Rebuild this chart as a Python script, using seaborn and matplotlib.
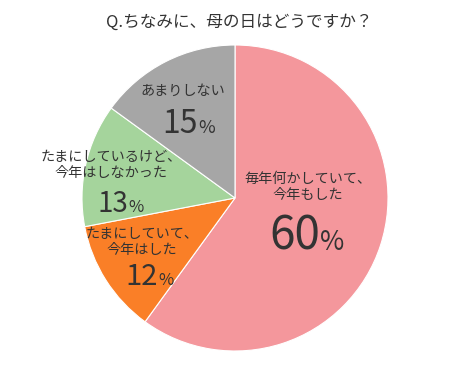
import matplotlib
matplotlib.use("Agg")
import matplotlib.pyplot as plt
import seaborn as sns

sns.set_theme(style="white")
plt.rcParams['font.family'] = ['Noto Sans CJK JP', 'DejaVu Sans']

title = "Q.ちなみに、母の日はどうですか？"
categories = ["毎年何かしていて、\n今年もした", "たまにしていて、\n今年はした",
              "たまにしているけど、\n今年はしなかった", "あまりしない"]
values = [60, 12, 13, 15]
colors = ["#F4979C", "#FA7F27", "#A5D49C", "#A6A6A6"]

W, H = 475, 390
fig = plt.figure(figsize=(W / 100, H / 100), dpi=100)
cx, cy, R = 235, 198, 153
ax = fig.add_axes([(cx - R) / W, (H - cy - R) / H, 2 * R / W, 2 * R / H])
ax.pie(values, colors=colors, startangle=90, counterclock=False, radius=1,
       wedgeprops=dict(edgecolor="white", linewidth=0.8))
ax.set_xlim(-1, 1)
ax.set_ylim(-1, 1)
ax.set_aspect("equal")
ax.axis("off")

def P(px, py):
    return (px - cx) / R, (cy - py) / R

tc = "#333333"
# label layout: (label center x, label center y, split x, baseline y, number size, pct size)
layout = [
    (308, 187, 320, 250, 33, 19),
    (142, 242, 158, 285, 21, 12),
    (111, 165, 128, 212, 20, 12),
    (183, 91, 198, 133, 23, 13),
]
for cat, v, (lx, ly, sx, by, ns, ps) in zip(categories, values, layout):
    x, y = P(lx, ly)
    ax.text(x, y, cat, ha="center", va="center", fontsize=10.2, color=tc,
            linespacing=1.2)
    x2, y2 = P(sx, by)
    ax.text(x2, y2, str(v), ha="right", va="baseline", fontsize=ns, color=tc)
    ax.text(x2, y2, "%", ha="left", va="baseline", fontsize=ps, color=tc)

fig.text(239 / W, 1 - 22 / H, title, ha="center", va="center", fontsize=12,
         color=tc)

fig.savefig("out.png", dpi=100, facecolor="white")
